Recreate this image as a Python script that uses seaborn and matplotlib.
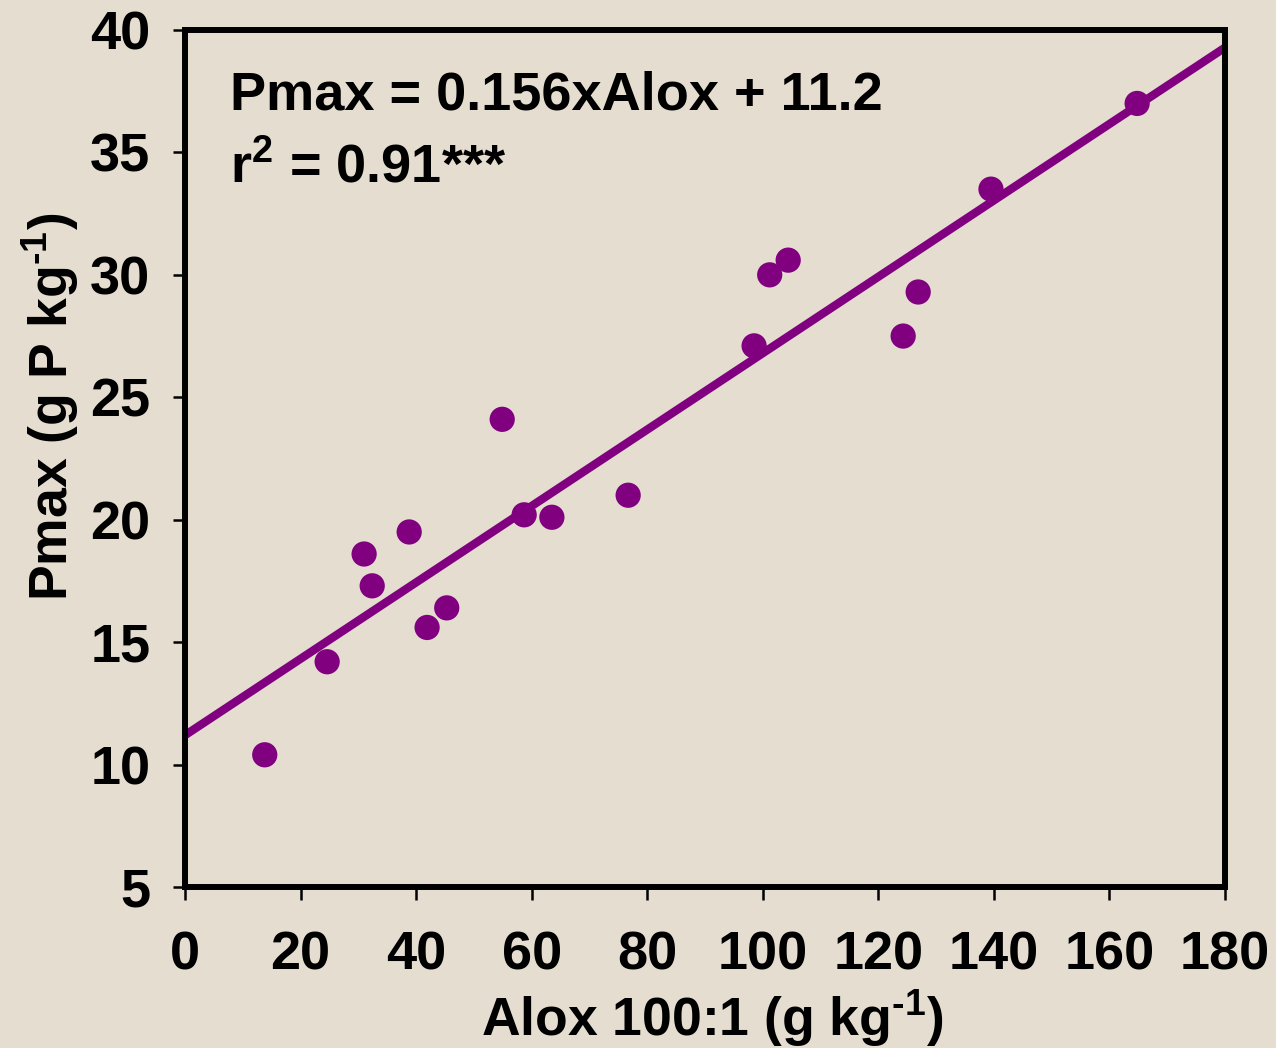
import numpy as np
import pandas as pd
import matplotlib
matplotlib.use("Agg")
import matplotlib.pyplot as plt
import seaborn as sns

# -------------------------------------------------------------------
# Data
# -------------------------------------------------------------------

alox = [13.8, 24.6, 31.0, 32.4, 38.8, 41.9, 45.3, 54.9, 58.7, 63.5,
        76.7, 98.5, 101.2, 104.4, 124.3, 126.9, 139.5, 164.8]
pmax = [10.4, 14.2, 18.6, 17.3, 19.5, 15.6, 16.4, 24.1, 20.2, 20.1,
        21.0, 27.1, 30.0, 30.6, 27.5, 29.3, 33.5, 37.0]

slope = 0.156
intercept = 11.2
r2_text = "0.91***"

x_ticks = [0, 20, 40, 60, 80, 100, 120, 140, 160, 180]
y_ticks = [5, 10, 15, 20, 25, 30, 35, 40]

PURPLE = "#800080"
BG = "#e4ddd0"

# -------------------------------------------------------------------
# Style
# -------------------------------------------------------------------

sns.set_theme(style="ticks")
plt.rcParams["font.family"] = ["Liberation Sans", "DejaVu Sans"]
plt.rcParams["font.weight"] = "bold"
plt.rcParams["text.color"] = "black"
plt.rcParams["axes.labelcolor"] = "black"
plt.rcParams["mathtext.fontset"] = "custom"
plt.rcParams["mathtext.bf"] = "Liberation Sans:bold"
plt.rcParams["mathtext.rm"] = "Liberation Sans:bold"
plt.rcParams["mathtext.default"] = "bf"

df = pd.DataFrame({"alox": alox, "pmax": pmax})

fig = plt.figure(figsize=(12.76, 10.48), dpi=100, facecolor=BG)
ax = fig.add_axes([0.145, 0.1536, 0.815, 0.8178])
ax.set_facecolor(BG)

# droite de régression
line_x = np.array([0, 180])
line_df = pd.DataFrame({"x": line_x, "y": slope * line_x + intercept})
sns.lineplot(data=line_df, x="x", y="y", ax=ax, color=PURPLE,
             linewidth=6, solid_capstyle="round", zorder=2)

sns.scatterplot(data=df, x="alox", y="pmax", ax=ax, color=PURPLE,
                s=330, edgecolor="none", zorder=3)

ax.set_xlim(0, 180)
ax.set_ylim(5, 40)
ax.set_xticks(x_ticks)
ax.set_yticks(y_ticks)

for side in ["left", "right", "top", "bottom"]:
    ax.spines[side].set_linewidth(4.3)
    ax.spines[side].set_color("black")

ax.tick_params(axis="both", direction="out", length=9, width=1.8,
               color="black", labelsize=39, labelcolor="black")
ax.tick_params(axis="y", pad=16)
ax.tick_params(axis="x", pad=22)
for lbl in ax.get_xticklabels() + ax.get_yticklabels():
    lbl.set_fontweight("bold")

ax.set_xlabel(r"Alox 100:1 (g kg$^{\text{-}1}$)", fontsize=38.5,
              fontweight="bold", color="black")
ax.set_ylabel(r"Pmax (g P kg$^{\text{-}1}$)", fontsize=38.5,
              fontweight="bold", color="black")
ax.xaxis.set_label_coords(0.507, -0.118)
ax.yaxis.set_label_coords(-0.1, 0.56)

ax.text(0.043, 0.907, f"Pmax = {slope}xAlox + {intercept}",
        transform=ax.transAxes, fontsize=39, fontweight="bold",
        va="baseline", ha="left", color="black")
ax.text(0.043, 0.823, r"r$^{2}$ = " + r2_text,
        transform=ax.transAxes, fontsize=39, fontweight="bold",
        va="baseline", ha="left", color="black")

fig.savefig("out.png", dpi=100, facecolor=BG)
